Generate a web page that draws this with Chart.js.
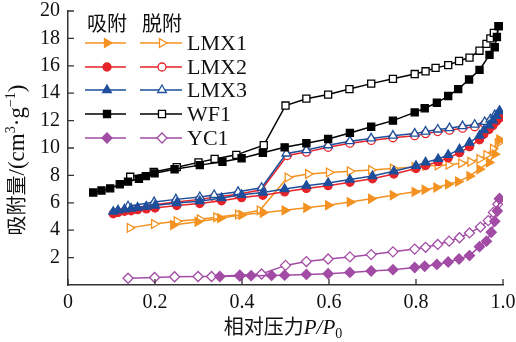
<!DOCTYPE html>
<html><head><meta charset="utf-8">
<script src="https://cdn.jsdelivr.net/npm/chart.js@4/dist/chart.umd.min.js"></script>
<style>html,body{margin:0;padding:0;background:#fff}canvas{display:block}</style>
</head><body>
<canvas id="c" width="516" height="342"></canvas>
<script>
// ---------- data ----------
const xTickValues = [0, 0.2, 0.4, 0.6, 0.8, 1.0];
const xTickLabels = ['0', '0.2', '0.4', '0.6', '0.8', '1.0'];
const yTickValues = [2, 4, 6, 8, 10, 12, 14, 16, 18, 20];
const yTickLabels = ['2', '4', '6', '8', '10', '12', '14', '16', '18', '20'];
const seriesNames = ['LMX1', 'LMX2', 'LMX3', 'WF1', 'YC1'];
const legendHeaders = ['吸附', '脱附'];

// LMX1
const lmx1AdsP = [0.242,0.298,0.350,0.399,0.448,0.498,0.548,0.598,0.648,0.697,0.747,0.797,0.820,0.847,0.874,0.897,0.923,0.946,0.968,0.981,0.992];
const lmx1AdsV = [4.38,4.62,4.88,5.12,5.27,5.45,5.64,5.82,6.05,6.30,6.55,6.80,6.95,7.12,7.35,7.55,7.95,8.45,8.95,9.55,10.6];
const lmx1DesP = [0.142,0.198,0.250,0.303,0.341,0.391,0.441,0.505,0.552,0.600,0.648,0.697,0.747,0.797,0.822,0.850,0.875,0.904,0.925,0.946,0.962,0.977,0.988,0.992];
const lmx1DesV = [4.17,4.45,4.65,4.80,4.95,5.15,5.45,7.85,8.10,8.22,8.30,8.40,8.50,8.62,8.70,8.72,8.78,8.88,9.00,9.20,9.50,9.95,10.35,10.6];
// LMX2
const lmx2AdsP = [0.104,0.115,0.130,0.145,0.160,0.180,0.200,0.250,0.303,0.353,0.399,0.448,0.498,0.548,0.598,0.648,0.700,0.749,0.800,0.822,0.851,0.874,0.900,0.923,0.946,0.956,0.968,0.977,0.985,0.992];
const lmx2AdsV = [5.20,5.30,5.38,5.42,5.50,5.55,5.62,5.80,5.95,6.15,6.38,6.55,6.80,7.05,7.25,7.50,7.75,8.10,8.50,8.72,9.00,9.28,9.65,10.1,10.6,11.0,11.35,11.65,11.95,12.2];
const lmx2DesP = [0.138,0.198,0.248,0.303,0.336,0.391,0.445,0.504,0.548,0.598,0.648,0.697,0.747,0.797,0.822,0.850,0.877,0.907,0.935,0.958,0.971,0.981,0.992];
const lmx2DesV = [5.55,5.85,6.05,6.25,6.40,6.62,6.95,9.45,9.70,10.05,10.35,10.55,10.75,10.90,11.05,11.20,11.30,11.45,11.55,11.75,11.95,12.10,12.2];
// LMX3
const lmx3AdsP = [0.104,0.115,0.130,0.145,0.160,0.180,0.200,0.250,0.303,0.353,0.399,0.448,0.498,0.548,0.598,0.648,0.700,0.749,0.800,0.822,0.851,0.874,0.900,0.923,0.946,0.956,0.968,0.977,0.985,0.992];
const lmx3AdsV = [5.35,5.45,5.52,5.58,5.65,5.72,5.80,5.98,6.12,6.35,6.58,6.75,7.00,7.25,7.45,7.70,7.95,8.30,8.70,8.95,9.20,9.50,9.90,10.4,10.9,11.3,11.65,12.0,12.35,12.7];
const lmx3DesP = [0.138,0.198,0.248,0.303,0.336,0.391,0.445,0.502,0.548,0.598,0.648,0.697,0.747,0.797,0.822,0.850,0.877,0.907,0.935,0.958,0.971,0.981,0.992];
const lmx3DesV = [5.75,6.05,6.25,6.42,6.57,6.80,7.10,9.60,9.85,10.2,10.5,10.7,10.9,11.05,11.2,11.35,11.45,11.6,11.7,11.9,12.1,12.4,12.7];
// WF1
const wf1AdsP = [0.058,0.077,0.097,0.119,0.138,0.163,0.179,0.199,0.245,0.303,0.355,0.399,0.448,0.498,0.548,0.598,0.648,0.697,0.747,0.797,0.820,0.848,0.874,0.897,0.922,0.946,0.969,0.981,0.986,0.990];
const wf1AdsV = [6.75,6.90,7.05,7.35,7.55,7.75,7.95,8.15,8.45,8.75,9.00,9.25,9.65,10.05,10.35,10.66,11.1,11.55,12.0,12.6,12.9,13.3,13.8,14.3,15.0,15.7,16.8,17.35,18.1,18.9];
const wf1DesP = [0.143,0.197,0.250,0.300,0.337,0.387,0.450,0.500,0.548,0.598,0.647,0.697,0.747,0.797,0.822,0.845,0.874,0.899,0.923,0.946,0.962,0.971,0.979,0.990];
const wf1DesV = [7.90,8.25,8.60,8.95,9.20,9.50,10.2,13.1,13.6,13.9,14.3,14.7,15.05,15.4,15.6,15.85,16.05,16.35,16.6,17.1,17.6,18.0,18.4,18.9];
// YC1
const yc1AdsP = [0.349,0.395,0.421,0.468,0.498,0.548,0.598,0.648,0.697,0.747,0.797,0.820,0.848,0.874,0.899,0.923,0.946,0.962,0.973,0.981,0.987,0.992];
const yc1AdsV = [0.62,0.65,0.68,0.70,0.72,0.77,0.82,0.92,1.02,1.12,1.28,1.37,1.50,1.68,1.90,2.15,2.80,3.20,3.85,4.65,5.40,6.30];
const yc1DesP = [0.138,0.199,0.245,0.299,0.330,0.395,0.445,0.500,0.548,0.598,0.648,0.697,0.747,0.797,0.822,0.850,0.876,0.900,0.923,0.948,0.966,0.978,0.988,0.992];
const yc1DesV = [0.49,0.55,0.60,0.62,0.62,0.72,0.80,1.43,1.71,1.90,2.05,2.22,2.42,2.62,2.75,2.96,3.20,3.45,3.80,4.23,4.70,5.30,5.90,6.30];

// ---------- styles ----------
const COLORS = { LMX1: '#F39221', LMX2: '#E52329', LMX3: '#1D4F9C', WF1: '#000000', YC1: '#A24CA5' };
const MARKERS = {
  LMX1: { style: 'triangle', rotation: 90, radius: 5 },
  LMX2: { style: 'circle', rotation: 0, radius: 4 },
  LMX3: { style: 'triangle', rotation: 0, radius: 5 },
  WF1:  { style: 'rect', rotation: 0, radius: 5 },
  YC1:  { style: 'rectRot', rotation: 0, radius: 5 }
};
const SERIF = '"Liberation Serif", "Times New Roman", serif';
const CJK = '"Noto Sans CJK SC", sans-serif';

function pts(P, V) { return P.map((p, i) => ({ x: p, y: V[i] })); }
function ds(name, P, V, hollow, order) {
  const c = COLORS[name], m = MARKERS[name];
  return {
    label: name + (hollow ? ' 脱附' : ' 吸附'),
    data: pts(P, V),
    showLine: true,
    borderColor: c,
    borderWidth: 1.5,
    pointStyle: m.style,
    rotation: m.rotation,
    pointRadius: m.radius,
    pointBackgroundColor: hollow ? '#ffffff' : c,
    pointBorderColor: c,
    pointBorderWidth: 1.3,
    order: order
  };
}

const datasets = [
  ds('YC1', yc1AdsP, yc1AdsV, false, 1),
  ds('YC1', yc1DesP, yc1DesV, true, 2),
  ds('WF1', wf1AdsP, wf1AdsV, false, 3),
  ds('WF1', wf1DesP, wf1DesV, true, 4),
  ds('LMX3', lmx3AdsP, lmx3AdsV, false, 5),
  ds('LMX3', lmx3DesP, lmx3DesV, true, 6),
  ds('LMX2', lmx2AdsP, lmx2AdsV, false, 7),
  ds('LMX2', lmx2DesP, lmx2DesV, true, 8),
  ds('LMX1', lmx1AdsP, lmx1AdsV, false, 9),
  ds('LMX1', lmx1DesP, lmx1DesV, true, 10)
];

function marker(ctx, name, hollow, x, y) {
  const m = MARKERS[name], c = COLORS[name];
  ctx.save();
  ctx.fillStyle = hollow ? '#ffffff' : c;
  ctx.strokeStyle = c;
  ctx.lineWidth = 1.3;
  Chart.helpers.drawPoint(ctx, { pointStyle: m.style, rotation: m.rotation, radius: m.radius, borderWidth: 1.3 }, x, y);
  ctx.restore();
}

function drawSegments(ctx, segs, cx, baseline) {
  let total = 0;
  segs.forEach(s => { ctx.font = s.font; s.w = ctx.measureText(s.t).width + (s.gap || 0); total += s.w; });
  let x = cx - total / 2;
  segs.forEach(s => { ctx.font = s.font; ctx.fillText(s.t, x, baseline + (s.dy || 0)); x += s.w; });
}

const decor = {
  id: 'decor',
  afterDraw(chart) {
    const ctx = chart.ctx, xs = chart.scales.x, ys = chart.scales.y, a = chart.chartArea;
    ctx.save();
    // inward tick marks
    ctx.strokeStyle = '#333'; ctx.lineWidth = 1.3;
    ctx.beginPath();
    xTickValues.forEach(v => { const px = xs.getPixelForValue(v); ctx.moveTo(px, a.bottom); ctx.lineTo(px, a.bottom - 6); });
    yTickValues.forEach(v => { const py = ys.getPixelForValue(v); ctx.moveTo(a.left, py); ctx.lineTo(a.left + 6, py); });
    ctx.stroke();

    ctx.fillStyle = '#111';
    ctx.textBaseline = 'alphabetic';
    ctx.textAlign = 'left';
    // x title
    drawSegments(ctx, [
      { t: '相对压力', font: '20px ' + CJK },
      { t: 'P/P', font: 'italic 21px ' + SERIF },
      { t: '0', font: '14px ' + SERIF, dy: 4 }
    ], 283, 334);
    // y title (rotated)
    ctx.save();
    ctx.translate(17, 160);
    ctx.rotate(-Math.PI / 2);
    drawSegments(ctx, [
      { t: '吸附量', font: '20px ' + CJK },
      { t: '/(cm', font: '23px ' + SERIF },
      { t: '3', font: '14px ' + SERIF, dy: -9 },
      { t: '·g', font: '23px ' + SERIF },
      { t: '−1', font: '14px ' + SERIF, dy: -9 },
      { t: ')', font: '23px ' + SERIF }
    ], 0, 7);
    ctx.restore();

    // legend
    const adsX0 = 85, adsX1 = 126, adsM = 107;
    const desX0 = 140, desX1 = 182, desM = 162;
    const labelX = 187;
    const rows = [43, 67, 90, 114, 138];
    ctx.font = '20px ' + CJK;
    ctx.textBaseline = 'middle';
    ctx.textAlign = 'center';
    ctx.fillText(legendHeaders[0], 107, 23);
    ctx.fillText(legendHeaders[1], 162, 23);
    ctx.textAlign = 'left';
    ctx.font = '22px ' + SERIF;
    seriesNames.forEach((n, i) => {
      const y = rows[i];
      ctx.strokeStyle = COLORS[n]; ctx.lineWidth = 1.5;
      ctx.beginPath();
      ctx.moveTo(adsX0, y); ctx.lineTo(adsX1, y);
      ctx.moveTo(desX0, y); ctx.lineTo(desX1, y);
      ctx.stroke();
      marker(ctx, n, false, adsM, y);
      marker(ctx, n, true, desM, y);
      ctx.fillStyle = '#111';
      ctx.fillText(n, labelX, y + 1);
    });
    ctx.restore();
  }
};

new Chart(document.getElementById('c'), {
  type: 'scatter',
  data: { datasets },
  options: {
    responsive: false,
    animation: false,
    devicePixelRatio: 1,
    layout: { padding: { top: 11, right: 13, left: 0, bottom: 0 } },
    plugins: { legend: { display: false }, tooltip: { enabled: false } },
    scales: {
      x: {
        type: 'linear', min: 0, max: 1,
        afterFit(s) { s.height = 57; s.paddingLeft = 0; s.paddingRight = 0; },
        afterBuildTicks(s) { s.ticks = xTickValues.map(v => ({ value: v })); },
        ticks: { callback: (v, i) => xTickLabels[i], font: { family: SERIF, size: 20 }, color: '#111', padding: 6, maxRotation: 0, autoSkip: false },
        grid: { display: false, drawTicks: false },
        border: { display: true, color: '#333', width: 1.5 }
      },
      y: {
        type: 'linear', min: 0, max: 20,
        afterFit(s) { s.width = 68; s.paddingTop = 0; s.paddingBottom = 0; },
        afterBuildTicks(s) { s.ticks = yTickValues.map(v => ({ value: v })); },
        ticks: { callback: (v, i) => yTickLabels[i], font: { family: SERIF, size: 20 }, color: '#111', padding: 8, autoSkip: false },
        grid: { display: false, drawTicks: false },
        border: { display: true, color: '#333', width: 1.5 }
      }
    }
  },
  plugins: [decor]
});
</script>
</body></html>
